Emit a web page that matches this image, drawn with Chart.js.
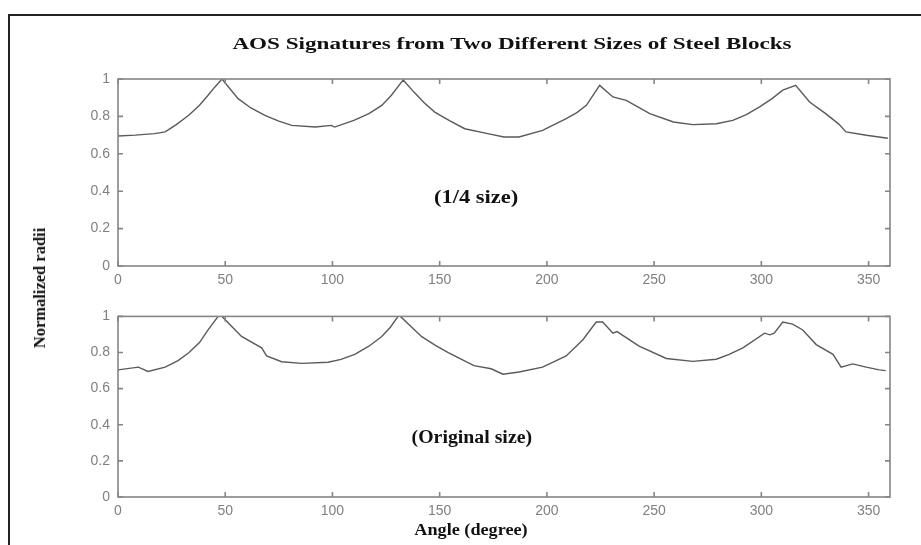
<!DOCTYPE html>
<html>
<head>
<meta charset="utf-8">
<script src="https://cdn.jsdelivr.net/npm/chart.js@4.4.0/dist/chart.umd.min.js"></script>
<style>
  body { margin: 0; background: #fff; }
  #wrap { position: relative; width: 921px; height: 545px; overflow: hidden; background: #fff; }
  #border { position: absolute; left: 8px; top: 14px; width: 940px; height: 560px; border-left: 2px solid #222; border-top: 2px solid #222; }
  canvas { position: absolute; left: 0; }
  #c1 { top: 0; }
  #c2 { top: 300px; }
  .t { position: absolute; font-family: "Liberation Serif", "Times New Roman", serif; font-weight: bold; color: #111; white-space: nowrap; }
  #title { left: 512px; top: 44px; font-size: 17px; transform: translate(-50%, -50%) scaleX(1.36); }
  #ylab { left: 40px; top: 288px; font-size: 16.5px; transform: translate(-50%, -50%) rotate(-90deg); }
  #xlab { left: 471px; top: 530px; font-size: 17px; transform: translate(-50%, -50%) scaleX(1.07); }
</style>
</head>
<body>
<div id="wrap">
  <div id="border"></div>
  <canvas id="c1" width="921" height="300"></canvas>
  <canvas id="c2" width="921" height="245"></canvas>
  <div class="t" id="title">AOS Signatures from Two Different Sizes of Steel Blocks</div>
  <div class="t" id="ylab">Normalized radii</div>
  <div class="t" id="xlab">Angle (degree)</div>
</div>
<script>
// 1/4 size block signature
var quarterAngle = [0, 8, 17, 22, 27, 33, 38, 42, 45, 48.5, 56, 62, 68.5, 75, 81, 92, 99.5, 101, 110, 117, 123, 127.5, 133,
  138, 143, 147.7, 155, 161.7, 172.4, 180, 187, 198, 209, 214, 218.4, 224.6, 230.8, 237, 248, 259, 268, 279, 286.7,
  293, 299, 305, 310, 316, 322.5, 330, 336, 339.5, 349, 359];
var quarterRadius = [0.695, 0.70, 0.708, 0.717, 0.755, 0.806, 0.86, 0.913, 0.955, 1.0, 0.895, 0.845, 0.806, 0.775, 0.752, 0.743, 0.752, 0.743, 0.779, 0.815, 0.859, 0.913, 0.995,
  0.93, 0.87, 0.823, 0.775, 0.734, 0.708, 0.69, 0.69, 0.725, 0.788, 0.82, 0.859, 0.966, 0.904, 0.886, 0.815, 0.77, 0.756, 0.761, 0.779,
  0.81, 0.85, 0.895, 0.94, 0.966, 0.877, 0.815, 0.76, 0.717, 0.699, 0.683];

// original size block signature
var origAngle = [0, 9.5, 14, 22, 28, 33, 38, 42, 46.7, 48.5, 57.6, 67, 69.3, 76.3, 85.6, 98, 104, 110.4, 117, 123, 127, 130.6, 131.7,
  141.5, 148, 154, 166, 174, 179.5, 187, 198, 209, 216.8, 223, 226, 230.8, 232.7, 243, 255.7, 268, 279, 285, 291.4, 301.5, 304,
  306, 310, 314.6, 319.3, 325.6, 333.4, 337.2, 342.6, 348.9, 355, 358];
var origRadius = [0.704, 0.719, 0.695, 0.719, 0.755, 0.799, 0.855, 0.925, 1.0, 1.0, 0.889, 0.826, 0.781, 0.749, 0.74, 0.746, 0.762, 0.79, 0.835, 0.889, 0.94, 1.0, 1.0,
  0.889, 0.84, 0.799, 0.727, 0.71, 0.68, 0.692, 0.719, 0.781, 0.871, 0.969, 0.969, 0.907, 0.916, 0.835, 0.767, 0.751, 0.763, 0.79, 0.826, 0.907, 0.898,
  0.907, 0.969, 0.957, 0.925, 0.844, 0.79, 0.719, 0.737, 0.719, 0.704, 0.70];

var xTickLabels = ['0', '50', '100', '150', '200', '250', '300', '350'];
var yTickLabels = ['0', '0.2', '0.4', '0.6', '0.8', '1'];

function pts(xs, ys) {
  return xs.map(function (a, i) { return { x: a, y: ys[i] }; });
}

// box with inward ticks on all four sides + label inside the axes
var framePlugin = {
  id: 'frame',
  afterDraw: function (chart, args, opts) {
    var ctx = chart.ctx, a = chart.chartArea, x = chart.scales.x, y = chart.scales.y;
    ctx.save();
    ctx.strokeStyle = '#858585';
    ctx.lineWidth = 1.6;
    ctx.strokeRect(a.left, a.top, a.right - a.left, a.bottom - a.top);
    ctx.beginPath();
    x.ticks.forEach(function (t) {
      var px = x.getPixelForValue(t.value);
      ctx.moveTo(px, a.bottom); ctx.lineTo(px, a.bottom - 5);
      ctx.moveTo(px, a.top); ctx.lineTo(px, a.top + 5);
    });
    y.ticks.forEach(function (t) {
      var py = y.getPixelForValue(t.value);
      ctx.moveTo(a.left, py); ctx.lineTo(a.left + 5, py);
      ctx.moveTo(a.right, py); ctx.lineTo(a.right - 5, py);
    });
    ctx.stroke();
    ctx.translate(x.getPixelForValue(opts.at[0]), y.getPixelForValue(opts.at[1]));
    ctx.scale(opts.stretch, 1);
    ctx.font = 'bold 18px "Liberation Serif", serif';
    ctx.fillStyle = '#111';
    ctx.textAlign = 'center';
    ctx.textBaseline = 'middle';
    ctx.fillText(opts.label, 0, 0);
    ctx.restore();
  }
};

function makeChart(id, xs, ys, padTop, xHeight, label, at, stretch) {
  return new Chart(document.getElementById(id).getContext('2d'), {
    type: 'line',
    data: {
      datasets: [{
        data: pts(xs, ys),
        borderColor: '#5a5a5a',
        borderWidth: 1.4,
        pointRadius: 0,
        tension: 0
      }]
    },
    options: {
      responsive: false,
      animation: false,
      devicePixelRatio: 1,
      layout: { padding: { left: 0, right: 31, top: padTop, bottom: 0 } },
      plugins: { legend: { display: false }, tooltip: { enabled: false }, frame: { label: label, at: at, stretch: stretch } },
      scales: {
        x: {
          type: 'linear', min: 0, max: 360,
          grid: { display: false, drawTicks: false, tickLength: 0 }, border: { display: false },
          ticks: {
            stepSize: 50, includeBounds: false, autoSkip: false, maxRotation: 0, padding: 6,
            color: '#808080', font: { family: '"Liberation Sans", Arial, sans-serif', size: 14 },
            callback: function (v) { return xTickLabels[Math.round(v / 50)]; }
          },
          afterFit: function (s) { s.height = xHeight; }
        },
        y: {
          min: 0, max: 1,
          grid: { display: false, drawTicks: false, tickLength: 0 }, border: { display: false },
          ticks: {
            stepSize: 0.2, padding: 8,
            color: '#808080', font: { family: '"Liberation Sans", Arial, sans-serif', size: 14 },
            callback: function (v) { return yTickLabels[Math.round(v / 0.2)]; }
          },
          afterFit: function (s) { s.width = 118; }
        }
      }
    },
    plugins: [framePlugin]
  });
}

makeChart('c1', quarterAngle, quarterRadius, 79, 34, '(1/4 size)', [167, 0.364], 1.25);
makeChart('c2', origAngle, origRadius, 11, 48, '(Original size)', [165, 0.323], 1.1);
</script>
</body>
</html>
